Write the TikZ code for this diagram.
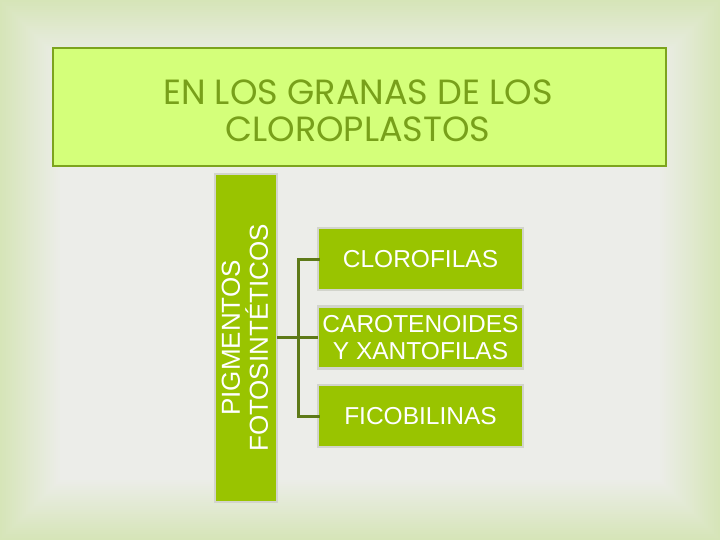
\documentclass[tikz,border=0pt]{standalone}
\usepackage{fontspec}
\setmainfont{Liberation Sans}
\newfontfamily\titlefont{Poppins}
\definecolor{bgedge}{HTML}{D6E5B8}
\definecolor{bgmid}{HTML}{ECEDE9}
\definecolor{titlefill}{HTML}{D4FF7A}
\definecolor{titleline}{HTML}{7CA41E}
\definecolor{titletext}{HTML}{78A01A}
\definecolor{boxfill}{HTML}{99C400}
\definecolor{boxline}{HTML}{D2D4CC}
\definecolor{connector}{HTML}{5E7A18}
\begin{document}
\begin{tikzpicture}[x=1pt,y=-1pt,
  greenbox/.style={draw=boxline, line width=2.5pt, fill=boxfill, text=white,
    inner sep=0pt, outer sep=0pt, align=center},
  conn/.style={draw=connector, line width=3pt}]
\useasboundingbox (0,0) rectangle (720,540);
% background vignette
\fill[bgedge] (0,0) rectangle (720,540);
\foreach \i in {0,...,30} {
  \pgfmathsetmacro{\pct}{100*\i/30}
  \fill[bgmid!\pct!bgedge] (2*\i,2*\i) rectangle (720-2*\i,540-2*\i);
}
% title
\node[draw=titleline, line width=2pt, fill=titlefill, minimum width=613pt,
  minimum height=118pt, inner sep=0pt, outer sep=0pt] (title) at (359.5,107.5) {};
\node[text=titletext, font=\titlefont\fontsize{35}{37}\selectfont, align=center]
  (titletext) at (358,111) {EN LOS GRANAS DE LOS\\CLOROPLASTOS};
% vertical box
\node[greenbox, minimum width=62pt, minimum height=328pt] (pig) at (246,338) {};
\node[text=white, rotate=90, align=center, font=\fontsize{26}{28}\selectfont]
  (pigtext) at (245,338) {PIGMENTOS\\FOTOSINTÉTICOS};
% right boxes
\node[greenbox, minimum width=205pt, minimum height=62pt,
  font=\fontsize{24.5}{27}\selectfont] (clo) at (420.5,259) {CLOROFILAS};
\node[greenbox, minimum width=205pt, minimum height=62pt,
  font=\fontsize{24.5}{27}\selectfont] (car) at (420.5,337.5) {CAROTENOIDES\\Y XANTOFILAS};
\node[greenbox, minimum width=205pt, minimum height=62pt,
  font=\fontsize{24.5}{27}\selectfont] (fic) at (420.5,416) {FICOBILINAS};
% connectors
\coordinate (bus) at (298,338);
\draw[conn] (pig.east |- car.west) -- (car.west);
\draw[conn, line cap=rect] (clo.west) -- (bus |- clo.west) -- (bus |- fic.west) -- (fic.west);
\end{tikzpicture}
\end{document}
